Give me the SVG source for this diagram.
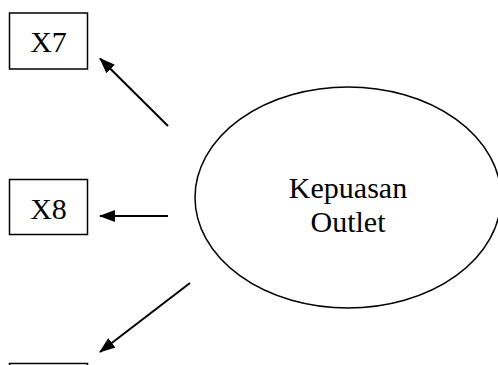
<svg xmlns="http://www.w3.org/2000/svg" width="498" height="365" viewBox="0 0 498 365">
<style>
.box{fill:#fff;stroke:#000;stroke-width:1.5}
.lbl{font-family:"Liberation Serif","Times New Roman",serif;font-size:30px;fill:#000;text-anchor:middle}
.con{stroke:#000;stroke-width:2;fill:none;marker-end:url(#ah)}
</style>
<defs>
<marker id="ah" markerUnits="userSpaceOnUse" markerWidth="16" markerHeight="12" refX="15" refY="6" orient="auto">
<path d="M0,0 L16,6 L0,12 Z" fill="#000"/>
</marker>
</defs>
<rect width="498" height="365" fill="#fff"/>
<g id="x7"><rect class="box" x="9.5" y="13" width="78" height="56"/><text class="lbl" x="48.5" y="52.3">X7</text></g>
<g id="x8"><rect class="box" x="9.5" y="179.5" width="78" height="55"/><text class="lbl" x="48.5" y="219">X8</text></g>
<g id="x9"><rect class="box" x="9.5" y="363.5" width="78" height="55"/></g>
<g id="kepuasan"><ellipse cx="348" cy="197.5" rx="153" ry="110.5" fill="#fff" stroke="#000" stroke-width="1.5"/>
<text class="lbl" x="348" y="198.3">Kepuasan</text><text class="lbl" x="348" y="232.3">Outlet</text></g>
<g id="connectors">
<line class="con" x1="168" y1="126" x2="100" y2="58.5"/>
<line class="con" x1="168" y1="216" x2="100" y2="216"/>
<line class="con" x1="190" y1="283" x2="100" y2="352"/>
</g>
</svg>
